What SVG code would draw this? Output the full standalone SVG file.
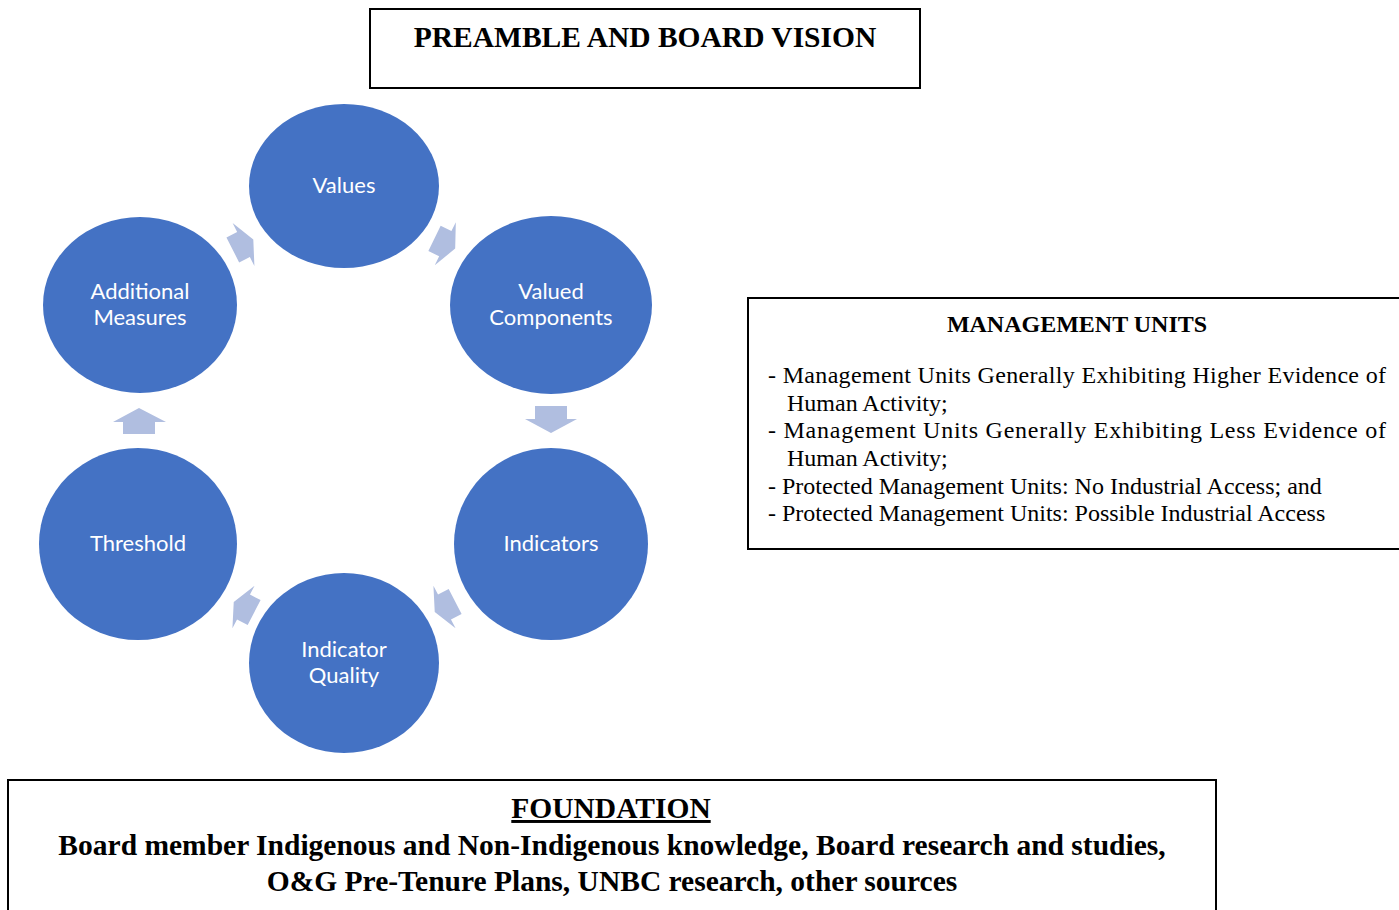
<svg xmlns="http://www.w3.org/2000/svg" width="1399" height="910" viewBox="0 0 1399 910">
  <style>
    .box { fill: #ffffff; stroke: #000000; stroke-width: 2; }
    .node { fill: #4472C4; }
    .lbl { font-family: Lato, "Open Sans", sans-serif; font-size: 22px; fill: #ffffff; text-anchor: middle; }
    .arrow { fill: #B0BEE0; }
    .serif { font-family: "Liberation Serif", "Times New Roman", serif; fill: #000000; }
    .hb { font-weight: bold; font-size: 29.5px; text-anchor: middle; }
    .mt { font-weight: bold; font-size: 24px; text-anchor: middle; }
    .mb { font-size: 24px; }
  </style>
  <defs>
    <!-- block arrow, pointing along +x, origin at the head base -->
    <polygon id="blk" points="-12,-14 0,-14 0,-24 11,0 0,24 0,14 -12,14"/>
  </defs>

  <!-- title box -->
  <g id="preamble">
    <rect class="box" x="370" y="9" width="550" height="79"/>
    <text class="serif hb" x="645" y="47">PREAMBLE AND BOARD VISION</text>
  </g>

  <!-- cycle connectors -->
  <g id="connectors" class="arrow">
    <use href="#blk" transform="translate(445.3 243.7) rotate(26)"/>
    <polygon points="535,406 567,406 567,419 577,419 551,433 525,419 535,419"/>
    <use href="#blk" transform="translate(444.5 607) rotate(152.5)"/>
    <use href="#blk" transform="translate(243.5 607) rotate(207.5)"/>
    <polygon points="123,434 155,434 155,422 166,422 139,408 113,422 123,422"/>
    <use href="#blk" transform="translate(243.5 244.5) rotate(-27)"/>
  </g>

  <!-- cycle nodes -->
  <g id="values">
    <ellipse class="node" cx="344" cy="186" rx="95" ry="82"/>
    <text class="lbl" x="344" y="193">Values</text>
  </g>
  <g id="valued-components">
    <ellipse class="node" cx="551" cy="305" rx="101" ry="89"/>
    <text class="lbl" x="551" y="299">Valued</text>
    <text class="lbl" x="551" y="325">Components</text>
  </g>
  <g id="indicators">
    <ellipse class="node" cx="551" cy="544" rx="97" ry="96"/>
    <text class="lbl" x="551" y="551">Indicators</text>
  </g>
  <g id="indicator-quality">
    <ellipse class="node" cx="344" cy="663" rx="95" ry="90"/>
    <text class="lbl" x="344" y="657">Indicator</text>
    <text class="lbl" x="344" y="683">Quality</text>
  </g>
  <g id="threshold">
    <ellipse class="node" cx="138" cy="544" rx="99" ry="96"/>
    <text class="lbl" x="138" y="551">Threshold</text>
  </g>
  <g id="additional-measures">
    <ellipse class="node" cx="140" cy="305" rx="97" ry="88"/>
    <text class="lbl" x="140" y="299">Additional</text>
    <text class="lbl" x="140" y="325">Measures</text>
  </g>

  <!-- management units panel -->
  <g id="management-units">
    <rect class="box" x="748" y="298" width="700" height="251"/>
    <text class="serif mt" x="1077" y="332">MANAGEMENT UNITS</text>
    <text class="serif mb" x="768" y="383" textLength="618" lengthAdjust="spacing">- Management Units Generally Exhibiting Higher Evidence of</text>
    <text class="serif mb" x="787" y="411">Human Activity;</text>
    <text class="serif mb" x="768" y="438" textLength="618" lengthAdjust="spacing">-  Management Units Generally Exhibiting Less Evidence of</text>
    <text class="serif mb" x="787" y="466">Human Activity;</text>
    <text class="serif mb" x="768" y="494">- Protected Management Units: No Industrial Access; and</text>
    <text class="serif mb" x="768" y="521">- Protected Management Units: Possible Industrial Access</text>
  </g>

  <!-- foundation panel -->
  <g id="foundation">
    <rect class="box" x="8" y="780" width="1208" height="150"/>
    <text class="serif hb" x="611" y="818" text-decoration="underline">FOUNDATION</text>
    <text class="serif hb" x="612" y="855">Board member Indigenous and Non-Indigenous knowledge, Board research and studies,</text>
    <text class="serif hb" x="612" y="891">O&amp;G Pre-Tenure Plans, UNBC research, other sources</text>
  </g>
</svg>
